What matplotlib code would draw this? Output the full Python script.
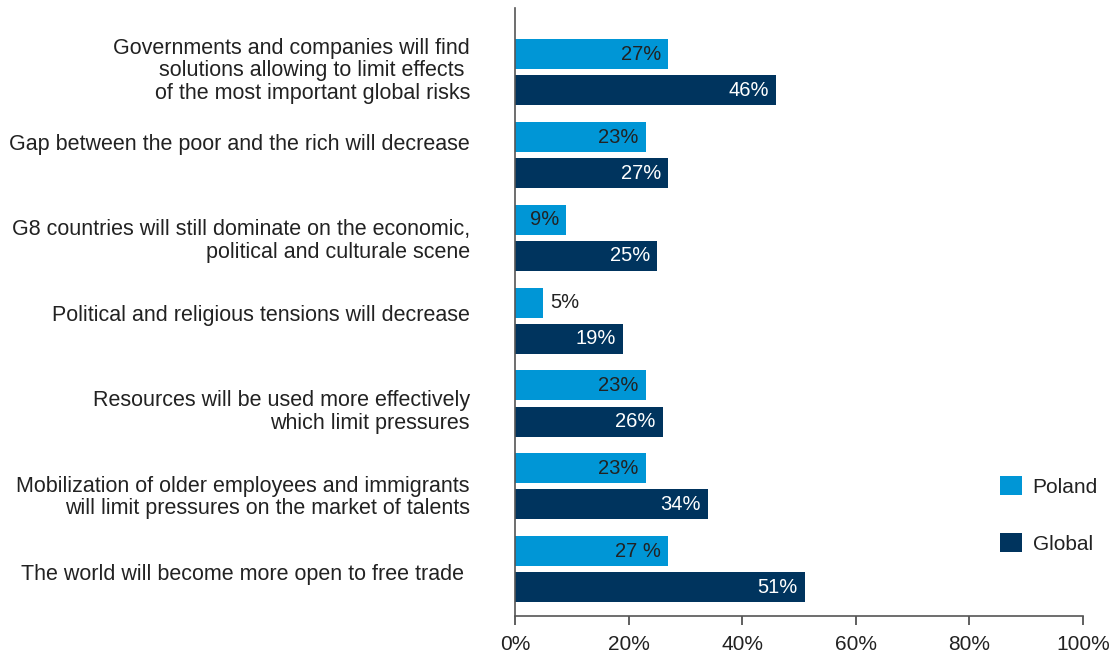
import matplotlib.pyplot as plt
import matplotlib.transforms as mtransforms
import numpy as np

plt.rcParams['font.family'] = ['Liberation Sans', 'DejaVu Sans']

categories = [
    "Governments and companies will find\nsolutions allowing to limit effects \nof the most important global risks",
    "Gap between the poor and the rich will decrease",
    "G8 countries will still dominate on the economic,\npolitical and culturale scene",
    "Political and religious tensions will decrease",
    "Resources will be used more effectively\nwhich limit pressures",
    "Mobilization of older employees and immigrants\nwill limit pressures on the market of talents",
    "The world will become more open to free trade ",
]
poland = [27, 23, 9, 5, 23, 23, 27]
global_ = [46, 27, 25, 19, 26, 34, 51]
poland_labels = ["27%", "23%", "9%", "5%", "23%", "23%", "27 %"]
global_labels = ["46%", "27%", "25%", "19%", "26%", "34%", "51%"]
ticks = [0, 20, 40, 60, 80, 100]

# small vertical nudges (pixels, up is positive) for the category labels
label_nudge = [5, 13, 0, 8, -5, -8, -3]

c_pl = '#0096d6'
c_gl = '#00345e'
txt = '#222222'

fig = plt.figure(figsize=(11.13, 6.54), dpi=100)
ax = fig.add_axes([0.4627, 0.0581, 0.5104, 0.9297])

y = np.arange(len(categories))
h = 0.362
off = 0.218
b1 = ax.barh(y - off, poland, height=h, color=c_pl, label='Poland')
b2 = ax.barh(y + off, global_, height=h, color=c_gl, label='Global')

# values: dark inside the light bars, white inside the dark ones
for yi, v, lab in zip(y, poland, poland_labels):
    if v < 7:
        ax.annotate(lab, (v, yi - off), xytext=(7, 0), textcoords='offset pixels',
                    ha='left', va='center', fontsize=14.5, color=txt)
    else:
        ax.annotate(lab, (v, yi - off), xytext=(-7, 0), textcoords='offset pixels',
                    ha='right', va='center', fontsize=14.5, color=txt)
for yi, v, lab in zip(y, global_, global_labels):
    ax.annotate(lab, (v, yi + off), xytext=(-7, 0), textcoords='offset pixels',
                ha='right', va='center', fontsize=14.5, color='white')

ax.set_xlim(0, 100)
ax.set_ylim(6.566, -0.777)
ax.set_xticks(ticks)
ax.set_xticklabels([f"{t}%" for t in ticks], fontsize=15, color=txt)
ax.set_yticks(y)
ax.set_yticklabels(categories, fontsize=15.5, color=txt, linespacing=1.1)
ax.tick_params(axis='y', length=0, pad=32.4)
ax.tick_params(axis='x', length=6.5, width=1.2, color='#444444', pad=7)

for lab, dy in zip(ax.get_yticklabels(), label_nudge):
    lab.set_transform(lab.get_transform() +
                      mtransforms.ScaledTranslation(0, dy / 100, fig.dpi_scale_trans))

for s in ['top', 'right']:
    ax.spines[s].set_visible(False)
for s in ['left', 'bottom']:
    ax.spines[s].set_color('#555555')
    ax.spines[s].set_linewidth(1.2)

ax.legend(handles=[b1, b2], loc='upper left',
          bbox_to_anchor=(1000 / 1113, 1 - 476 / 654), bbox_transform=fig.transFigure,
          frameon=False, fontsize=15, handlelength=1.06, handleheight=1.06,
          labelspacing=1.73, handletextpad=0.5, borderpad=0, borderaxespad=0,
          labelcolor=txt)

fig.savefig('out.png', dpi=100)
